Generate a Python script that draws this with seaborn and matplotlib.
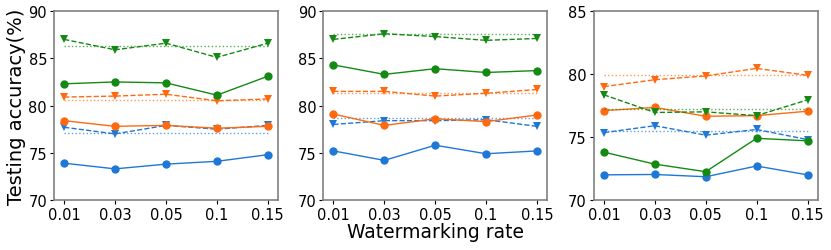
import numpy as np
import pandas as pd
import matplotlib
matplotlib.use('Agg')
import matplotlib.pyplot as plt
import seaborn as sns

rates = ['0.01', '0.03', '0.05', '0.1', '0.15']

# panel 1
p1_blue_solid = [73.9, 73.3, 73.8, 74.1, 74.8]
p1_blue_dash = [77.7, 77.0, 77.9, 77.5, 77.9]
p1_blue_base = 77.05
p1_orange_solid = [78.4, 77.8, 77.9, 77.6, 77.8]
p1_orange_dash = [80.9, 81.0, 81.2, 80.5, 80.7]
p1_orange_base = 80.6
p1_green_solid = [82.3, 82.5, 82.4, 81.1, 83.1]
p1_green_dash = [87.0, 85.9, 86.6, 85.1, 86.6]
p1_green_base = 86.3

# panel 2
p2_blue_solid = [75.2, 74.2, 75.8, 74.9, 75.2]
p2_blue_dash = [78.0, 78.4, 78.4, 78.5, 77.8]
p2_blue_base = 78.7
p2_orange_solid = [79.1, 77.9, 78.6, 78.3, 79.0]
p2_orange_dash = [81.5, 81.5, 81.0, 81.3, 81.7]
p2_orange_base = 81.3
p2_green_solid = [84.3, 83.3, 83.9, 83.5, 83.7]
p2_green_dash = [87.0, 87.6, 87.3, 86.9, 87.1]
p2_green_base = 87.6

# panel 3
p3_blue_solid = [72.0, 72.03, 71.85, 72.7, 72.0]
p3_blue_dash = [75.35, 75.9, 75.15, 75.6, 74.8]
p3_blue_base = 75.45
p3_orange_solid = [77.1, 77.35, 76.65, 76.7, 77.05]
p3_orange_dash = [79.0, 79.55, 79.85, 80.45, 79.9]
p3_orange_base = 79.9
p3_green_solid = [73.8, 72.85, 72.25, 74.9, 74.7]
p3_green_dash = [78.35, 76.95, 77.0, 76.7, 77.95]
p3_green_base = 77.2

panels = [
    {'blue': (p1_blue_solid, p1_blue_dash, p1_blue_base),
     'orange': (p1_orange_solid, p1_orange_dash, p1_orange_base),
     'green': (p1_green_solid, p1_green_dash, p1_green_base),
     'ylim': (70, 90), 'yticks': [70, 75, 80, 85, 90]},
    {'blue': (p2_blue_solid, p2_blue_dash, p2_blue_base),
     'orange': (p2_orange_solid, p2_orange_dash, p2_orange_base),
     'green': (p2_green_solid, p2_green_dash, p2_green_base),
     'ylim': (70, 90), 'yticks': [70, 75, 80, 85, 90]},
    {'blue': (p3_blue_solid, p3_blue_dash, p3_blue_base),
     'orange': (p3_orange_solid, p3_orange_dash, p3_orange_base),
     'green': (p3_green_solid, p3_green_dash, p3_green_base),
     'ylim': (70, 85), 'yticks': [70, 75, 80, 85]},
]

colors = {'blue': '#1f77d6', 'orange': '#ff6a10', 'green': '#148a14'}

sns.set_style('ticks')
plt.rcParams['font.family'] = ['DejaVu Sans']
plt.rcParams['axes.edgecolor'] = '#808080'
plt.rcParams['text.color'] = 'black'
plt.rcParams['axes.labelcolor'] = 'black'

fig = plt.figure(figsize=(8.31, 2.51), dpi=100)
lefts = [0.065, 0.389, 0.7145]
axes = [fig.add_axes([l, 0.199, 0.2695, 0.753]) for l in lefts]

xpos = np.arange(len(rates))
for ax, p in zip(axes, panels):
    for name in ['blue', 'orange', 'green']:
        solid, dash, base = p[name]
        c = colors[name]
        df = pd.DataFrame({'x': xpos, 'solid': solid, 'dash': dash,
                           'base': [base] * len(rates)})
        sns.lineplot(data=df, x='x', y='base', ax=ax, color=c, lw=1.0,
                     linestyle=':', alpha=0.7)
        sns.lineplot(data=df, x='x', y='dash', ax=ax, color=c, lw=1.0,
                     linestyle='--', marker='v', markersize=6,
                     markeredgewidth=0)
        sns.lineplot(data=df, x='x', y='solid', ax=ax, color=c, lw=1.0,
                     marker='o', markersize=6, markeredgewidth=0)
    ax.set_xlim(-0.2, 4.2)
    ax.set_ylim(*p['ylim'])
    ax.set_yticks(p['yticks'])
    ax.set_xticks(xpos)
    ax.set_xticklabels(rates)
    ax.tick_params(labelsize=10.5, colors='black', length=3, width=0.8, pad=2)
    for s in ax.spines.values():
        s.set_color('#808080')
        s.set_linewidth(1.2)
    ax.set_xlabel('')
    ax.set_ylabel('')

axes[0].set_ylabel('Testing accuracy(%)', fontsize=14, labelpad=2, color='black')
axes[1].set_xlabel('Watermarking rate', fontsize=13.5, labelpad=0, color='black')

fig.savefig('out.png', dpi=100)
